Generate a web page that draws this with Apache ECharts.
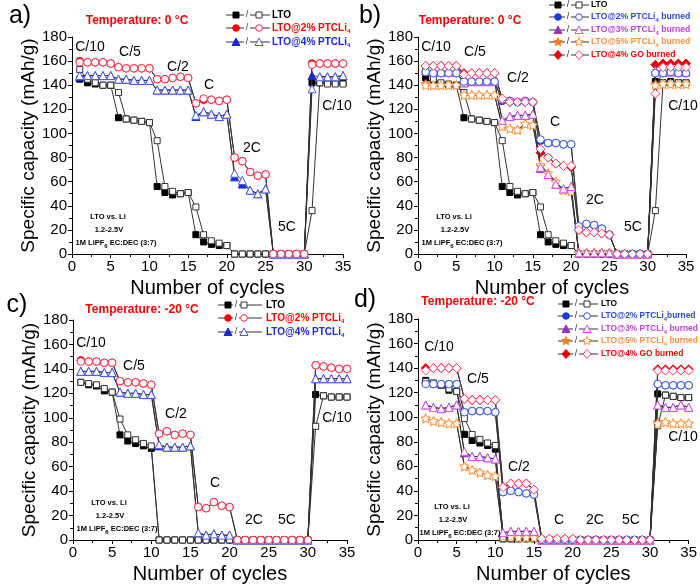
<!DOCTYPE html>
<html><head><meta charset="utf-8">
<script src="https://cdn.jsdelivr.net/npm/echarts@6/dist/echarts.min.js"></script>
<style>html,body{margin:0;padding:0;background:#fff}#c{width:700px;height:585px}</style>
</head><body><div id="c"></div>
<script>
const cycles = [1,2,3,4,5,6,7,8,9,10,11,12,13,14,15,16,17,18,19,20,21,22,23,24,25,26,27,28,29,30,31,32,33,34,35];
const xTicks = [0,5,10,15,20,25,30,35];
const yTicks = [0,20,40,60,80,100,120,140,160,180];
const rateA = ['C/10','C/5','C/2','C','2C','5C','C/10'];

// Panel a (0 °C)
const a_LTO_open = [153,145,142,140,140,134,112,111,110,109,94,56,52,50,51,39,16,11,9,7,0,0,0,0,0,0,0,0,0,0,36,142,141,141,141];
const a_LTO_fill = [145,142,141,140,140,113,112,111,110,109,56,51,49,50,51,16,10,8,7,7,0,0,0,0,0,0,0,0,0,0,142,142,143,142,142];
const a_P2_open = [159,159,159,159,158,155,154,154,154,154,145,145,146,147,146,125,129,128,127,128,80,77,68,65,66,0,0,0,0,0,157,158,158,158,158];
const a_P2_fill = [160,159,159,159,158,155,154,154,154,154,145,145,146,147,146,125,128,128,127,128,80,77,68,65,66,0,0,0,0,0,158,158,158,158,158];
const a_P4_open = [148,148,148,148,148,145,145,144,144,144,136,136,136,136,136,115,118,116,114,116,67,61,53,50,54,0,0,0,0,0,137,147,147,147,148];
const a_P4_fill = [147,148,148,148,148,145,145,144,144,144,136,136,136,136,136,114,118,116,114,116,64,58,53,50,54,0,0,0,0,0,148,147,147,147,148];

// Panel b (0 °C, burned)
const b_LTO_open = [152,145,142,141,140,134,112,111,110,109,94,56,52,50,51,39,16,11,9,7,0,0,0,0,0,0,0,0,0,0,36,142,142,142,142];
const b_LTO_fill = [146,142,141,140,140,113,112,111,110,109,56,51,49,50,51,16,10,8,7,7,0,0,0,0,0,0,0,0,0,0,143,142,143,142,142];
const b_P2_open = [151,150,150,150,150,143,143,143,143,143,128,127,126,127,126,95,92,92,91,91,23,25,24,21,16,0,0,0,0,0,150,150,151,150,150];
const b_P2_fill = [151,150,150,150,150,143,143,143,143,143,127,127,126,127,126,94,92,92,91,91,22,25,24,21,16,0,0,0,0,0,150,150,151,150,150];
const b_P3_open = [152,151,151,151,151,142,143,143,143,143,111,114,115,115,116,72,66,58,54,56,1,1,1,1,1,0,0,0,0,0,152,151,151,151,151];
const b_P3_fill = [152,151,151,151,151,142,143,143,143,143,110,114,115,115,116,71,66,58,54,56,1,1,1,1,1,0,0,0,0,0,152,151,151,151,151];
const b_P5_open = [140,140,140,140,140,132,132,132,132,132,106,104,103,108,107,74,67,60,53,52,1,1,1,1,1,0,0,0,0,0,140,141,141,141,141];
const b_P5_fill = [141,140,140,140,140,132,132,132,132,132,106,104,103,108,107,73,67,60,53,52,1,1,1,1,1,0,0,0,0,0,141,141,141,141,141];
const b_GO_open = [156,156,156,156,156,149,150,150,150,150,129,126,126,126,126,87,80,75,73,73,20,18,18,17,16,0,0,0,0,0,133,155,155,155,155];
const b_GO_fill = [156,156,156,156,156,150,150,150,150,150,128,126,126,126,126,84,80,75,73,72,20,18,18,17,16,0,0,0,0,0,157,158,158,158,158];

// Panel c (-20 °C)
const c_LTO_open = [129,128,127,124,121,99,86,82,79,77,0,0,0,0,0,0,0,0,0,0,0,0,0,0,0,0,0,0,0,0,93,118,117,117,117];
const c_LTO_fill = [129,127,126,122,121,86,81,79,77,75,0,0,0,0,0,0,0,0,0,0,0,0,0,0,0,0,0,0,0,0,119,118,117,117,117];
const c_P2_open = [146,146,146,145,145,130,129,129,128,127,87,89,86,87,86,27,26,31,28,27,0,0,0,0,0,0,0,0,0,0,143,142,141,140,140];
const c_P2_fill = [147,146,146,145,145,130,129,129,128,127,87,89,86,87,86,27,26,31,28,27,0,0,0,0,0,0,0,0,0,0,143,142,141,140,140];
const c_P4_open = [138,138,138,137,137,121,120,120,119,119,78,76,76,76,77,6,4,5,4,4,0,0,0,0,0,0,0,0,0,0,132,132,132,132,132];
const c_P4_fill = [138,138,138,137,137,121,120,120,119,119,77,76,76,76,77,5,4,5,4,4,0,0,0,0,0,0,0,0,0,0,132,132,132,132,132];

// Panel d (-20 °C, burned)
const d_LTO_open = [129,128,126,123,121,99,86,82,79,77,1,1,1,1,1,0,0,0,0,0,0,0,0,0,0,0,0,0,0,0,93,118,117,116,116];
const d_LTO_fill = [130,127,126,122,121,86,81,79,77,74,1,1,1,1,1,0,0,0,0,0,0,0,0,0,0,0,0,0,0,0,119,118,117,116,116];
const d_P2_open = [127,127,127,127,127,104,105,105,105,104,39,40,39,38,37,0,0,0,0,0,0,0,0,0,0,0,0,0,0,0,127,126,126,126,126];
const d_P2_fill = [128,127,127,127,127,104,105,105,105,104,39,40,39,38,37,0,0,0,0,0,0,0,0,0,0,0,0,0,0,0,127,126,126,126,126];
const d_P3_open = [110,108,107,108,110,72,68,68,67,66,6,7,7,7,7,0,0,0,0,0,0,0,0,0,0,0,0,0,0,0,110,108,108,110,108];
const d_P3_fill = [110,108,107,108,110,71,68,68,67,66,5,7,7,7,7,0,0,0,0,0,0,0,0,0,0,0,0,0,0,0,110,108,108,110,108];
const d_P5_open = [99,97,96,95,95,60,57,55,53,52,3,3,2,2,2,0,0,0,0,0,0,0,0,0,0,0,0,0,0,0,95,96,95,95,95];
const d_P5_fill = [99,97,96,95,95,60,57,55,53,52,3,3,2,2,2,0,0,0,0,0,0,0,0,0,0,0,0,0,0,0,96,96,95,95,95];
const d_GO_open = [138,140,140,140,140,115,114,114,114,114,43,46,46,46,41,1,1,1,1,1,0,0,0,0,0,0,0,0,0,0,138,138,138,138,138];
const d_GO_fill = [140,140,140,140,140,115,114,114,114,114,43,46,46,46,41,1,1,1,1,1,0,0,0,0,0,0,0,0,0,0,139,139,139,139,139];

const STAR = 'path://M0,-10L2.94,-4.05L9.51,-3.09L4.76,1.55L5.88,8.09L0,5L-5.88,8.09L-4.76,1.55L-9.51,-3.09L-2.94,-4.05Z';
const M = {
  lto: {sym:'rect', size:6, fc:'#000', oc:'#333'},
  p2r: {sym:'circle', size:7.5, fc:'#ff0000', oc:'#ff3050'},
  p4b: {sym:'triangle', size:8, fc:'#1a2ad8', oc:'#4a5ae8'},
  p2b: {sym:'circle', size:7.5, fc:'#1a3ad8', oc:'#3a5ae8'},
  p3: {sym:'triangle', size:8, fc:'#9a30c0', oc:'#d050f0'},
  p5: {sym:STAR, size:9, fc:'#ff7a20', oc:'#ff9a40'},
  go: {sym:'diamond', size:9, fc:'#ee0000', oc:'#ff4070'}
};
const FONT = 'Liberation Sans, Arial, sans-serif';

function pairs(arr){ return arr.map((v,i)=>[cycles[i], v]); }
const fillSeries = [], openSeries = [];
function mat(gi, fill, open, m){
  const base = {type:'line', xAxisIndex:gi, yAxisIndex:gi, symbol:m.sym, symbolSize:m.size,
    showAllSymbol:true, animation:false, lineStyle:{color:'#333', width:1}, emphasis:{disabled:true}, silent:true};
  fillSeries.push(Object.assign({}, base, {data:pairs(fill), z:2, itemStyle:{color:m.fc, borderColor:m.fc, borderWidth:1}}));
  openSeries.push(Object.assign({}, base, {data:pairs(open), z:3, itemStyle:{color:'#fff', borderColor:m.oc, borderWidth:1}}));
}
mat(0, a_LTO_fill, a_LTO_open, M.lto); mat(0, a_P4_fill, a_P4_open, M.p4b); mat(0, a_P2_fill, a_P2_open, M.p2r);
mat(1, b_LTO_fill, b_LTO_open, M.lto); mat(1, b_P5_fill, b_P5_open, M.p5); mat(1, b_P3_fill, b_P3_open, M.p3); mat(1, b_P2_fill, b_P2_open, M.p2b); mat(1, b_GO_fill, b_GO_open, M.go);
mat(2, c_LTO_fill, c_LTO_open, M.lto); mat(2, c_P4_fill, c_P4_open, M.p4b); mat(2, c_P2_fill, c_P2_open, M.p2r);
mat(3, d_LTO_fill, d_LTO_open, M.lto); mat(3, d_P5_fill, d_P5_open, M.p5); mat(3, d_P3_fill, d_P3_open, M.p3); mat(3, d_P2_fill, d_P2_open, M.p2b); mat(3, d_GO_fill, d_GO_open, M.go);

const grids = [
  {left:72, top:37, width:271, height:217},
  {left:418, top:37, width:268, height:217},
  {left:73, top:320, width:274, height:220},
  {left:418, top:319, width:274, height:221}
];
const xAxes = grids.map((g,i)=>({type:'value', gridIndex:i, min:xTicks[0], max:xTicks[xTicks.length-1], interval:5,
  name:'Number of cycles', nameLocation:'middle', nameGap:24, nameTextStyle:{fontSize:20, color:'#000', fontFamily:FONT},
  axisLine:{lineStyle:{color:'#000', width:1}}, axisTick:{length:4, lineStyle:{color:'#000'}},
  minorTick:{show:true, splitNumber:2, length:3, lineStyle:{color:'#000'}},
  axisLabel:{fontSize:15, color:'#000', fontFamily:FONT, margin:5}, splitLine:{show:false}}));
const yAxes = grids.map((g,i)=>({type:'value', gridIndex:i, min:yTicks[0], max:yTicks[yTicks.length-1], interval:20,
  name:'Specific capacity (mAh/g)', nameLocation:'middle', nameGap:30, nameTextStyle:{fontSize:19, color:'#000', fontFamily:FONT},
  axisLine:{show:true, lineStyle:{color:'#000', width:1}}, axisTick:{show:true, length:4, lineStyle:{color:'#000'}},
  minorTick:{show:true, splitNumber:2, length:3, lineStyle:{color:'#000'}},
  axisLabel:{fontSize:15, color:'#000', fontFamily:FONT, margin:5}, splitLine:{show:false}}));

const graphic = [];
function txt(x,y,text,opt){
  graphic.push({type:'text', x:x, y:y, z:20, style:Object.assign({text:text, fontFamily:FONT, fill:'#000', align:'center', verticalAlign:'middle'}, opt||{}), silent:true});
}
function shape(kind, cx, cy, fill, stroke){
  let el;
  if (kind==='rect') el = {type:'rect', shape:{x:cx-3, y:cy-3, width:6, height:6}};
  else if (kind==='circle') el = {type:'circle', shape:{cx:cx, cy:cy, r:3.3}};
  else if (kind==='triangle') el = {type:'polygon', shape:{points:[[cx,cy-4],[cx+4,cy+3.5],[cx-4,cy+3.5]]}};
  else if (kind==='diamond') el = {type:'polygon', shape:{points:[[cx,cy-4.5],[cx+4,cy],[cx,cy+4.5],[cx-4,cy]]}};
  else {
    const pts=[]; for(let k=0;k<10;k++){const r=k%2?2:4.5; const a=-Math.PI/2+k*Math.PI/5; pts.push([cx+r*Math.cos(a), cy+r*Math.sin(a)]);}
    el = {type:'polygon', shape:{points:pts}};
  }
  el.style = {fill:fill, stroke:stroke, lineWidth:1}; el.z = 21; el.silent = true;
  graphic.push(el);
}
function legend(x0, xF, xS, xO, x1, xT, fs, rows){
  rows.forEach(r=>{
    const y = r.y;
    graphic.push({type:'line', z:20, shape:{x1:x0, y1:y, x2:xS-3, y2:y}, style:{stroke:'#333', lineWidth:1}, silent:true});
    graphic.push({type:'line', z:20, shape:{x1:xS+3, y1:y, x2:x1, y2:y}, style:{stroke:'#333', lineWidth:1}, silent:true});
    txt(xS, y, '/', {fontSize:9, fill:'#333'});
    const kind = r.m.sym===STAR ? 'star' : r.m.sym;
    shape(kind, xF, y, r.m.fc, r.m.fc);
    shape(kind, xO, y, '#fff', r.m.oc);
    graphic.push({type:'text', x:xT, y:y, z:20, silent:true, style:{text:r.t, align:'left', verticalAlign:'middle', fontFamily:FONT,
      rich:{n:{fontSize:fs, fontWeight:'bold', fill:r.c, fontFamily:FONT}, s:{fontSize:6, fontWeight:'bold', fill:r.c, fontFamily:FONT, padding:[6,0,0,0]}}}});
  });
}
legend(226, 236, 247, 259, 270, 272, 10, [
  {y:15, m:M.lto, c:'#000', t:'{n|LTO}'},
  {y:28, m:M.p2r, c:'#ff0000', t:'{n|LTO@2% PTCLi}{s|4}'},
  {y:42, m:M.p4b, c:'#1a2ad8', t:'{n|LTO@4% PTCLi}{s|4}'}]);
legend(549, 558, 568, 579, 589, 591, 8.6, [
  {y:5, m:M.lto, c:'#000', t:'{n|LTO}'},
  {y:17, m:M.p2b, c:'#2a4ae0', t:'{n|LTO@2% PTCLi}{s|4}{n| burned}'},
  {y:30, m:M.p3, c:'#c040e0', t:'{n|LTO@3% PTCLi}{s|4}{n| burned}'},
  {y:42, m:M.p5, c:'#ff9040', t:'{n|LTO@5% PTCLi}{s|4}{n| burned}'},
  {y:55, m:M.go, c:'#ff0000', t:'{n|LTO@4% GO burned}'}]);
legend(218, 228, 236, 244, 262, 266, 10, [
  {y:305, m:M.lto, c:'#000', t:'{n|LTO}'},
  {y:318, m:M.p2r, c:'#ff0000', t:'{n|LTO@2% PTCLi}{s|4}'},
  {y:332, m:M.p4b, c:'#1a2ad8', t:'{n|LTO@4% PTCLi}{s|4}'}]);
legend(558, 566, 576, 587, 598, 601, 8.4, [
  {y:304, m:M.lto, c:'#000', t:'{n|LTO}'},
  {y:316, m:M.p2b, c:'#2a4ae0', t:'{n|LTO@2% PTCLi}{s|4}{n|burned}'},
  {y:329, m:M.p3, c:'#c040e0', t:'{n|LTO@3% PTCLi}{s|4}{n| burned}'},
  {y:341, m:M.p5, c:'#ff9040', t:'{n|LTO@5% PTCLi}{s|4}{n| burned}'},
  {y:354, m:M.go, c:'#ff0000', t:'{n|LTO@4% GO burned}'}]);

txt(20, 16, 'a)', {fontSize:25}); txt(370, 16, 'b)', {fontSize:25});
txt(17, 305, 'c)', {fontSize:25}); txt(365, 300, 'd)', {fontSize:25});
const tStyle = {fontSize:12, fontWeight:'bold', fill:'#ff0000'};
txt(137, 21, 'Temperature: 0 °C', tStyle); txt(470, 21, 'Temperature: 0 °C', tStyle);
txt(142, 310, 'Temperature: -20 °C', tStyle); txt(478, 302, 'Temperature: -20 °C', tStyle);

const rs = {fontSize:14};
[[90,47],[130,52],[178,67],[209,85],[252,148],[287,227],[337,106]].forEach((p,i)=>txt(p[0],p[1],rateA[i],rs));
[[436,47],[475,52],[518,78],[555,122],[595,200],[633,227],[683,106]].forEach((p,i)=>txt(p[0],p[1],rateA[i],rs));
[[91,343],[134,366],[176,414],[215,483],[254,520],[287,520],[337,418]].forEach((p,i)=>txt(p[0],p[1],rateA[i],rs));
[[439,347],[478,379],[519,467],[559,520],[595,520],[631,520],[683,437]].forEach((p,i)=>txt(p[0],p[1],rateA[i],rs));

const cs = {fontSize:7.5, fontWeight:'bold'};
function cond(x, y){
  txt(x, y, 'LTO vs. Li', cs); txt(x+1, y+13, '1.2-2.5V', cs);
  graphic.push({type:'text', x:x+8, y:y+26, z:20, silent:true, style:{text:'{b|1M LiPF}{s|6}{b| EC:DEC (3:7)}', align:'center', verticalAlign:'middle', fontFamily:FONT,
    rich:{b:{fontSize:7.5, fontWeight:'bold', fill:'#000', fontFamily:FONT}, s:{fontSize:6, fontWeight:'bold', fill:'#000', fontFamily:FONT, padding:[6,0,0,0]}}}});
}
cond(108, 217); cond(454, 217); cond(109, 503); cond(452, 507);

const chart = echarts.init(document.getElementById('c'), null, {renderer:'canvas'});
chart.setOption({
  backgroundColor:'#fff', animation:false,
  grid: grids, xAxis: xAxes, yAxis: yAxes,
  series: fillSeries.concat(openSeries),
  graphic: graphic
});
</script>
</body></html>
